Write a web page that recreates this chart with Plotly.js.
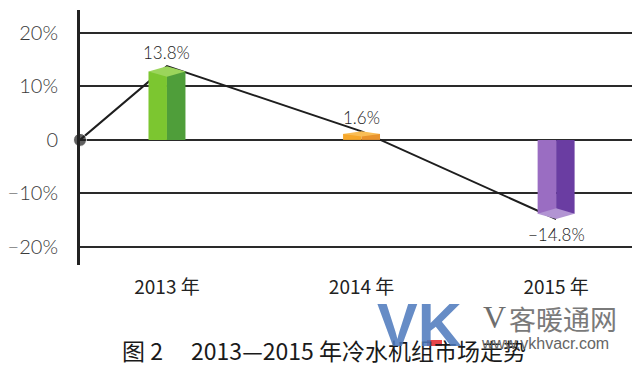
<!DOCTYPE html>
<html><head><meta charset="utf-8">
<script src="https://cdn.plot.ly/plotly-3.0.1.min.js"></script>
<style>body{margin:0;background:#fff}</style></head>
<body><div id="chart" style="width:643px;height:371px"></div>
<script>
// ---- data ----
const years = ['2013 年', '2014 年', '2015 年'];
const growth = [13.8, 1.6, -14.8];
const growthLabels = ['13.8%', '1.6%', '−14.8%'];
const yTickVals = [20, 10, 0, -10, -20];
const yTickText = ['20%', '10%', '0', '−10%', '−20%'];
const caption = '图 2\u2003 2013—2015 年冷水机组市场走势';

// ---- styles ----
const frontColors = ['#7cc630', '#f6a72a', '#9a6dc2'];
const sideColors  = ['#4f9e3a', '#e8922c', '#6a3da2'];
const capColors   = ['#9bd55b', '#f9bd55', '#b294d3'];
const xs = years.map((_, i) => i + 1);
const xRange = [0.553, 3.39];
const yRange = [-23.4, 24.3];
const halfW = 0.095;

// plot area in pixels (for decoration placement)
const L = 80, R = 632, T = 10, B = 265;
const px = x => (x - L) / (R - L);
const py = y => (B - y) / (B - T);

const traces = [];
// trend line (drawn below bars)
traces.push({
  type: 'scatter', mode: 'lines+markers', xaxis: 'x', yaxis: 'y',
  x: [xRange[0]].concat(xs), y: [0].concat(growth),
  line: {color: '#1e1e1e', width: 2},
  marker: {color: '#1e1e1e', size: [13, 0, 0, 0]},
  hoverinfo: 'skip', cliponaxis: false, showlegend: false
});
const capDepth = growth.map(v => Math.min(1.0, Math.abs(v) * 0.3));
const faceVals = growth.map((v, i) => v - Math.sign(v) * capDepth[i]);
// left (front) faces
traces.push({
  type: 'bar', xaxis: 'x2', yaxis: 'y2', x: xs, y: faceVals,
  width: halfW, offset: -halfW,
  marker: {color: frontColors, line: {width: 0}}, showlegend: false, hoverinfo: 'skip'
});
// right (side) faces
traces.push({
  type: 'bar', xaxis: 'x2', yaxis: 'y2', x: xs, y: faceVals,
  width: halfW, offset: 0,
  marker: {color: sideColors, line: {width: 0}}, showlegend: false, hoverinfo: 'skip'
});
// caps
growth.forEach((v, i) => {
  const c = xs[i], s = Math.sign(v), e = capDepth[i];
  traces.push({
    type: 'scatter', mode: 'lines', xaxis: 'x2', yaxis: 'y2',
    x: [c - halfW, c, c + halfW, c, c - halfW],
    y: [v - s * e, v, v - s * e, v - 2 * s * e, v - s * e],
    fill: 'toself', fillcolor: capColors[i], line: {width: 0},
    showlegend: false, hoverinfo: 'skip'
  });
});

const numFont = 'Lato, "Noto Sans", sans-serif';
const annotations = growth.map((v, i) => ({
  xref: 'x', yref: 'y', x: xs[i], y: v, text: growthLabels[i], showarrow: false,
  yanchor: v >= 0 ? 'bottom' : 'top', yshift: v >= 0 ? 1 : -3,
  font: {family: numFont, size: 17, color: '#1a1a1a', weight: 300}
}));
annotations.push({
  xref: 'paper', yref: 'paper', x: px(120), y: py(350), xanchor: 'left', yanchor: 'middle',
  text: caption, showarrow: false,
  font: {family: '"Noto Sans CJK SC", sans-serif', size: 23, color: '#1a1a1a'}
});
// watermark
annotations.push({
  xref: 'paper', yref: 'paper', x: px(375), y: py(325), xanchor: 'left', yanchor: 'middle',
  text: '<b>VK</b>', showarrow: false,
  font: {family: '"Liberation Sans", Arial, sans-serif', size: 61, color: 'rgba(75,120,188,0.85)'}
});
annotations.push({
  xref: 'paper', yref: 'paper', x: px(481), y: py(317), xanchor: 'left', yanchor: 'middle',
  text: 'V', showarrow: false,
  font: {family: '"Liberation Serif", serif', size: 32, color: '#6e6e6e'}
});
annotations.push({
  xref: 'paper', yref: 'paper', x: px(507), y: py(318), xanchor: 'left', yanchor: 'middle',
  text: '客暖通网', showarrow: false,
  font: {family: '"Noto Sans CJK SC", sans-serif', size: 27, color: '#7a7a7a'}
});
annotations.push({
  xref: 'paper', yref: 'paper', x: px(479), y: py(343), xanchor: 'left', yanchor: 'middle',
  text: 'www.vkhvacr.com', showarrow: false,
  font: {family: '"Liberation Sans", Arial, sans-serif', size: 16, color: '#666'}
});

const layout = {
  width: 643, height: 371,
  margin: {l: L, r: 643 - R, t: T, b: 371 - B, pad: 0},
  paper_bgcolor: '#fff', plot_bgcolor: '#fff',
  barmode: 'overlay', showlegend: false,
  xaxis: {
    range: xRange, tickvals: xs, ticktext: years, showgrid: false, zeroline: false,
    showline: false, ticks: 'outside', ticklen: 5, tickcolor: 'rgba(0,0,0,0)',
    tickfont: {family: '"Noto Sans CJK SC", sans-serif', size: 19, color: '#222'}, fixedrange: true
  },
  yaxis: {
    range: yRange, tickvals: yTickVals, ticktext: yTickText,
    showgrid: true, gridcolor: '#2a2a2a', gridwidth: 2,
    zeroline: true, zerolinecolor: '#2a2a2a', zerolinewidth: 2,
    showline: true, linecolor: '#222', linewidth: 3,
    ticks: 'outside', ticklen: 15, tickcolor: 'rgba(0,0,0,0)',
    tickfont: {family: numFont, size: 20, color: '#3a3a3a', weight: 300}, fixedrange: true
  },
  xaxis2: {overlaying: 'x', range: xRange, visible: false, fixedrange: true},
  yaxis2: {overlaying: 'y', range: yRange, visible: false, fixedrange: true},
  annotations: annotations,
  shapes: [{
    type: 'rect', xref: 'paper', yref: 'paper', layer: 'above',
    x0: px(427), x1: px(442), y0: py(346), y1: py(340),
    fillcolor: '#e8464a', line: {width: 0}
  }]
};

Plotly.newPlot('chart', traces, layout, {displayModeBar: false, staticPlot: true});
</script>
</body></html>
